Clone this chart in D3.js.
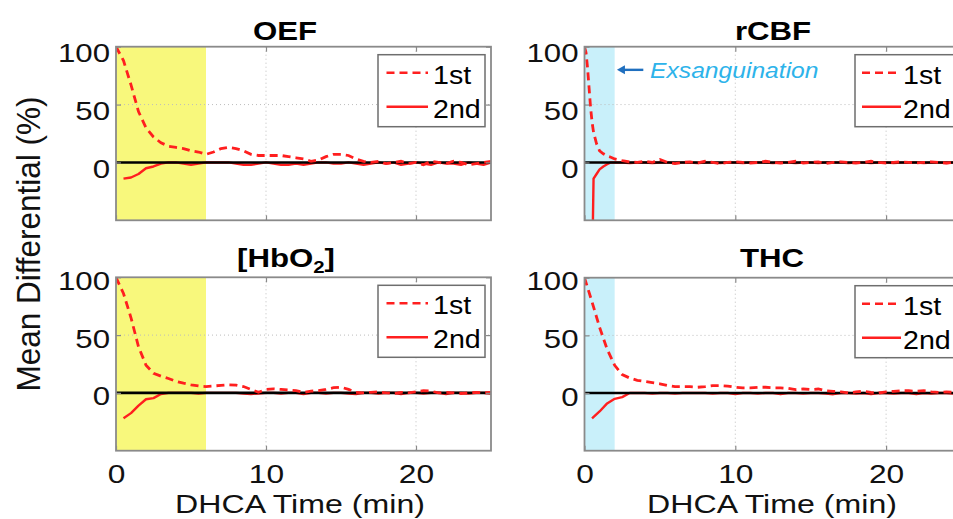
<!DOCTYPE html>
<html>
<head>
<meta charset="utf-8">
<script src="https://cdn.jsdelivr.net/npm/d3@7"></script>
<style>
  html, body { margin: 0; padding: 0; background: #fff; }
  svg { display: block; }
</style>
</head>
<body>
<svg id="chart" width="953" height="519"></svg>
<script>
// DHCA time grid (minutes)
const timeMin = [0,0.5,1,1.5,2,2.5,3,3.5,4,4.5,5,5.5,6,6.5,7,7.5,8,8.5,9,9.5,10,10.5,11,11.5,12,12.5,13,13.5,14,14.5,15,15.5,16,16.5,17,17.5,18,18.5,19,19.5,20,20.5,21,21.5,22,22.5,23,23.5,24,24.5,25];

// OEF mean differential (%)
const oef1st = [100,88,67,44,30,22,17,14,13,12,10,9,7,9,12,13,12,10,7,6,6,6,6,5,4,3,1,2,5,7,7,6,3,1,0,1,-1,0,1,-1,0,-2,1,0,-1,1,0,-2,-1,0,1];
const oef2nd = [null,-14,-13,-10,-5,-3.5,-1,0,0,-1,-2,-1,0,0,0,0,-1,-2,-2,-1,0,-1,-2,-2,-1,-2,-1,0,0,-1,-1,0,-1,-2,-1,0,-1,0,-2,-1,0,-1,-2,0,-1,-1,-2,0,-1,-2,0];

// rCBF is sampled more finely during the first two minutes
const rcbfTime = [0,0.1,0.2,0.3,0.4,0.5,0.6,0.8,1,1.25,1.5,1.75,2,2.5,3,3.5,4,4.5,5,5.5,6,6.5,7,7.5,8,8.5,9,9.5,10,10.5,11,11.5,12,12.5,13,13.5,14,14.5,15,15.5,16,16.5,17,17.5,18,18.5,19,19.5,20,20.5,21,21.5,22,22.5,23,23.5,24,24.5,25];
const rcbf1st = [100,95,82,65,48,35,26,16,10,7.5,5.5,4.5,3,1.5,0.5,0,1,0,2.5,0,-1,0,0.5,-0.5,1,0,-1,0,0.5,0,-0.5,0,1,0,-0.5,0,1,-0.5,0,0.5,-1,0,0.5,0,-0.5,0,1,0,-0.5,0,0.5,0,-0.5,0,0.5,0,-0.5,0,0.5];
const rcbf2nd = [null,null,null,null,null,-100,-14,-10,-6,-3.5,-1.5,0,0,0,-0.5,0,0,-0.5,0,0,-0.5,0,0,-0.5,0,0,-0.5,0,0,-0.5,0,0,0,-0.5,0,0,-0.5,0,0,-0.5,0,0,0,-0.5,0,0,-0.5,0,0,-0.5,0,0,0,-0.5,0,0,-0.5,0,0];

// [HbO2] mean differential (%)
const hbo2First = [100,86,65,40,24,17,14.5,12.5,10,8.4,7,6,5.5,6,6.5,7,6.8,5.5,3,0.5,3,3.5,3,2.5,2,0.5,1.5,2,3,4.5,5,3,0.5,0,0.5,1,0,-0.5,0.5,0,1,2,1.5,0,0.5,0,-0.5,0,0.5,0,0.5];
const hbo2Second = [null,-22,-17.5,-11,-5.5,-4.5,-1,0,0,0,0,-0.5,0,0,0,0,0,-0.5,-1,-0.5,0,0,-0.5,0,0,-1,0,0,-0.5,0,0,-0.5,-1,0,0,-0.5,0,0,-1,0,0,-0.5,0,0,-1,0,0,-0.5,0,0,-0.5];

// THC mean differential (%)
const thcFirst = [100,79,57,38,24,16,13,11,10,9,8,6.5,5.5,5.5,5.5,5,5.5,6.5,6.5,6,5,4.5,4.5,5,5,4.5,4.5,4,3,3.5,3,3.5,2,1.5,1,0,1,1.5,0.5,0,1,1.5,2,2,1.5,2,1,0.5,1,0.5,1];
const thcSecond = [null,-22,-16,-9,-5,-3.5,0,0,0,-0.5,0,0,-0.5,0,0,0,0,-0.5,0,0,-1,0,0,-0.5,0,0,-1,0,0,-0.5,0,0,-0.5,-1,0,0,-0.5,0,-1,0,0,-0.5,0,0,-1,0,-0.5,0,0,-0.5,0];

// axes
const xDomain = [0, 25];
const yDomain = [-50, 100];
const xTicks = [0, 10, 20];
const yTicks = [0, 50, 100];
const legendLabels = ["1st", "2nd"];
const xLabel = "DHCA Time (min)";
const yLabel = "Mean Differential (%)";
const noteText = "Exsanguination";

// panel layout (pixels) and styling
const YELLOW = "#f8f87c";
const CYAN = "#c9f0fa";
const RED = "#ff1f1f";
const FONT = '"Liberation Sans", Arial, Helvetica, sans-serif';

const panels = [
  { title: "OEF", t: timeMin, a: oef1st, b: oef2nd, shadeEnd: 6, shade: YELLOW,
    x0: 116, x1: 491, y0: 46.7, y1: 220.3, titleX: 285, titleY: 40, xLabels: false, legendX: 378, labelDy: 15 },
  { title: "rCBF", t: rcbfTime, a: rcbf1st, b: rcbf2nd, shadeEnd: 2, shade: CYAN,
    x0: 584.5, x1: 961.5, y0: 46.7, y1: 220.3, titleX: 773, titleY: 39.5, xLabels: false, legendX: 855, labelDy: 15, note: true },
  { title: "HbO2", t: timeMin, a: hbo2First, b: hbo2Second, shadeEnd: 6, shade: YELLOW,
    x0: 116, x1: 491, y0: 277.3, y1: 450.7, titleX: 286, titleY: 267, xLabels: true, legendX: 378, labelDy: 12 },
  { title: "THC", t: timeMin, a: thcFirst, b: thcSecond, shadeEnd: 2, shade: CYAN,
    x0: 584.5, x1: 961.5, y0: 277.7, y1: 450.7, titleX: 772, titleY: 267, xLabels: true, legendX: 855, labelDy: 12 }
];

const svg = d3.select("#chart").style("font-family", FONT);

function stretchedText(parent, x, y, str, o) {
  return parent.append("text")
    .attr("transform", `translate(${x},${y}) scale(${o.sx || 1},1)` + (o.rotate ? ` rotate(${o.rotate})` : ""))
    .attr("text-anchor", o.anchor || "start")
    .style("font-size", o.size + "px")
    .style("font-weight", o.weight || "normal")
    .style("font-style", o.style || "normal")
    .attr("fill", o.fill || "#000")
    .text(str);
}

panels.forEach((p, i) => {
  const x = d3.scaleLinear().domain(xDomain).range([p.x0, p.x1]);
  const y = d3.scaleLinear().domain(yDomain).range([p.y1, p.y0]);
  const g = svg.append("g");

  const clipId = "clip" + i;
  svg.append("clipPath").attr("id", clipId).append("rect")
    .attr("x", p.x0).attr("y", p.y0).attr("width", p.x1 - p.x0).attr("height", p.y1 - p.y0);

  // shaded interval
  g.append("rect")
    .attr("x", x(0)).attr("y", p.y0)
    .attr("width", x(p.shadeEnd) - x(0)).attr("height", p.y1 - p.y0)
    .attr("fill", p.shade);

  // dotted grid
  g.selectAll(".gx").data(xTicks.filter(v => v > xDomain[0])).enter().append("line")
    .attr("x1", d => x(d)).attr("x2", d => x(d)).attr("y1", p.y0).attr("y2", p.y1)
    .attr("stroke", "#bdbdbd").attr("stroke-width", 1).attr("stroke-dasharray", "1,3");
  g.selectAll(".gy").data(yTicks.filter(v => v > 0 && v < yDomain[1])).enter().append("line")
    .attr("x1", p.x0).attr("x2", p.x1).attr("y1", d => y(d)).attr("y2", d => y(d))
    .attr("stroke", "#bdbdbd").attr("stroke-width", 1).attr("stroke-dasharray", "1,3");

  const line = d3.line()
    .defined(d => d[1] !== null)
    .x(d => x(d[0])).y(d => y(d[1]));

  const plot = g.append("g").attr("clip-path", `url(#${clipId})`);
  const second = p.t.map((t, k) => [t, p.b[k]]);
  const first = p.t.map((t, k) => [t, p.a[k]]);

  plot.append("path").datum(second).attr("d", line)
    .attr("fill", "none").attr("stroke", RED).attr("stroke-width", 2.4)
    .attr("stroke-linejoin", "round");

  // zero reference
  plot.append("line")
    .attr("x1", x(xDomain[0])).attr("x2", x(xDomain[1]))
    .attr("y1", y(0)).attr("y2", y(0))
    .attr("stroke", "#000").attr("stroke-width", 2.6);

  plot.append("path").datum(first).attr("d", line)
    .attr("fill", "none").attr("stroke", RED).attr("stroke-width", 2.8)
    .attr("stroke-dasharray", "8,5");

  // frame
  g.append("rect")
    .attr("x", p.x0).attr("y", p.y0).attr("width", p.x1 - p.x0).attr("height", p.y1 - p.y0)
    .attr("fill", "none").attr("stroke", "#8a8a8a").attr("stroke-width", 1.8);

  // axes with inward ticks
  const ay = g.append("g").attr("transform", `translate(${p.x0},0)`)
    .call(d3.axisLeft(y).tickValues(yTicks).tickSizeInner(-5).tickSizeOuter(0));
  const ayR = g.append("g").attr("transform", `translate(${p.x1},0)`)
    .call(d3.axisRight(y).tickValues(yTicks).tickSizeInner(-5).tickSizeOuter(0).tickFormat(""));
  const axB = g.append("g").attr("transform", `translate(0,${p.y1})`)
    .call(d3.axisBottom(x).tickValues(xTicks).tickSizeInner(-5).tickSizeOuter(0));
  const axT = g.append("g").attr("transform", `translate(0,${p.y0})`)
    .call(d3.axisTop(x).tickValues(xTicks).tickSizeInner(-5).tickSizeOuter(0).tickFormat(""));

  [ay, ayR, axB, axT].forEach(a => {
    a.select(".domain").remove();
    a.selectAll("line").attr("stroke", "#8a8a8a").attr("stroke-width", 1.2);
  });

  ay.selectAll("text")
    .attr("x", null).attr("dy", null).attr("y", null)
    .attr("transform", `translate(-6,${p.labelDy}) scale(1.2,1)`)
    .attr("text-anchor", "end").attr("fill", "#111")
    .style("font-size", "26px").style("font-family", FONT);

  if (p.xLabels) {
    axB.selectAll("text")
      .attr("x", null).attr("dy", null).attr("y", null)
      .attr("transform", "translate(0,32) scale(1.22,1)")
      .attr("text-anchor", "middle").attr("fill", "#111")
      .style("font-size", "26px").style("font-family", FONT);
  } else {
    axB.selectAll("text").remove();
  }

  // title
  if (p.title === "HbO2") {
    const tt = g.append("text")
      .attr("transform", `translate(${p.titleX},${p.titleY}) scale(1.2,1)`)
      .attr("text-anchor", "middle")
      .style("font-size", "26px").style("font-weight", "bold").attr("fill", "#000");
    tt.append("tspan").text("[HbO");
    tt.append("tspan").text("2").attr("dy", 6).style("font-size", "17px");
    tt.append("tspan").text("]").attr("dy", -6);
  } else {
    stretchedText(g, p.titleX, p.titleY, p.title, { size: 26, weight: "bold", anchor: "middle", sx: 1.2 });
  }

  // legend
  const lx = p.legendX, ly = p.y0 + 8;
  const compact = p.x0 > 300;
  const lg = g.append("g");
  lg.append("rect").attr("x", lx).attr("y", ly).attr("width", 107).attr("height", 72)
    .attr("fill", "#fff").attr("stroke", "#6e6e6e").attr("stroke-width", 1.5);
  const lineStart = lx + (compact ? 7 : 8.5);
  const lineEnd = lx + (compact ? 46 : 50);
  const textX = lx + (compact ? 48 : 55);
  legendLabels.forEach((lab, k) => {
    const yy = ly + (k === 0 ? 18 : 52);
    lg.append("line").attr("x1", lineStart).attr("x2", lineEnd).attr("y1", yy).attr("y2", yy)
      .attr("stroke", RED).attr("stroke-width", 2.6)
      .attr("stroke-dasharray", k === 0 ? "8,5" : null);
    stretchedText(lg, textX, yy + 11, lab, { size: 26, sx: 1.1 });
  });

  // annotation marking the exsanguination interval
  if (p.note) {
    const ny = y(80);
    const tip = x(2.15), tail = x(3.9);
    g.append("line").attr("x1", tail).attr("x2", tip + 6).attr("y1", ny).attr("y2", ny)
      .attr("stroke", "#1f6fbf").attr("stroke-width", 2.4);
    g.append("path")
      .attr("d", `M${tip},${ny} L${tip + 8},${ny - 4.5} L${tip + 8},${ny + 4.5} Z`)
      .attr("fill", "#1f6fbf");
    stretchedText(g, x(4.35), ny + 8, noteText, { size: 22, style: "italic", sx: 1.12, fill: "#2db3ea" });
  }
});

// shared axis labels
stretchedText(svg, 40, 244, yLabel, { size: 31.5, anchor: "middle", sx: 1.05, rotate: -90, fill: "#111" });
stretchedText(svg, 300, 513, xLabel, { size: 25.5, anchor: "middle", sx: 1.26, fill: "#111" });
stretchedText(svg, 772, 513, xLabel, { size: 25.5, anchor: "middle", sx: 1.26, fill: "#111" });
</script>
</body>
</html>
